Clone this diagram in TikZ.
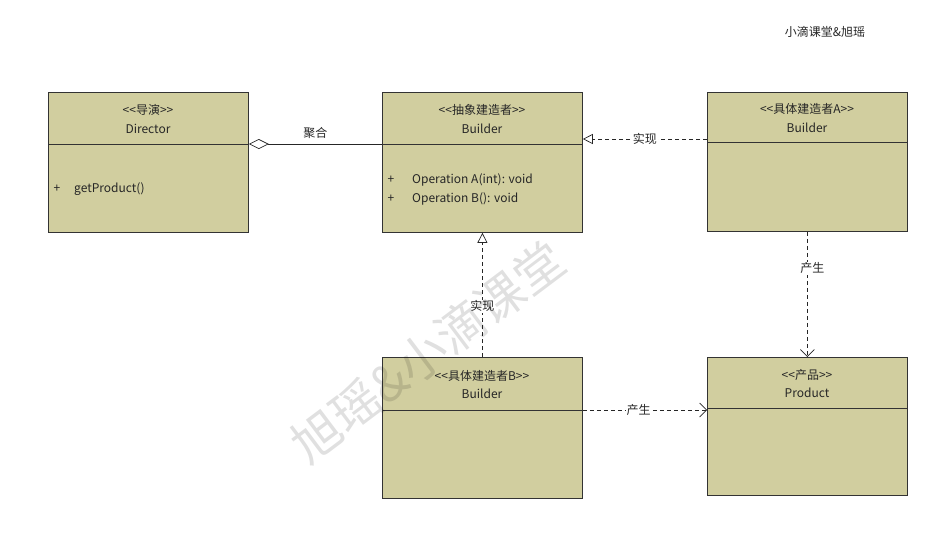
\documentclass[tikz,border=0pt]{standalone}
\usepackage{fontspec}
\newfontfamily\cnfont{Noto Sans CJK SC}
\usetikzlibrary{arrows.meta,calc}
\definecolor{boxfill}{HTML}{D1CE9F}
\begin{document}
\begin{tikzpicture}[x=1pt,y=-1pt,font=\cnfont\fontsize{12}{14}\selectfont,
  cls/.style={draw=black!80,fill=boxfill,line width=0.8pt,minimum width=200pt,inner sep=0pt,anchor=north west},
  txt/.style={inner sep=0pt,text=black!85},
  mtxt/.style={inner sep=0pt,text=black!85,anchor=west},
  divider/.style={draw=black!80,line width=0.8pt},
  solidline/.style={draw=black!85,line width=0.7pt},
  dashline/.style={draw=black!85,line width=0.7pt,dash pattern=on 4pt off 3pt},
  lab/.style={fill=white,inner sep=1pt,text=black!85},
  realize/.style={-{Triangle[open,length=10pt,width=10pt]}},
  produce/.style={-{Straight Barb[length=7pt,width=14pt]}},
  aggr/.style={{Diamond[open,length=20pt,width=10pt]}-}]
\useasboundingbox (0,0) rectangle (949,550);
\fill[white] (0,0) rectangle (949,550);

% classes
\node[cls,minimum height=140pt] (dir) at (48,92) {};
\node[cls,minimum height=140pt] (bld) at (382,92) {};
\node[cls,minimum height=139pt] (ca) at (707,92) {};
\node[cls,minimum height=141pt] (cb) at (382,357) {};
\node[cls,minimum height=138pt] (prod) at (707,357) {};

\draw[divider] ($(dir.north west)+(0,52)$) -- ($(dir.north east)+(0,52)$);
\draw[divider] ($(bld.north west)+(0,52)$) -- ($(bld.north east)+(0,52)$);
\draw[divider] ($(ca.north west)+(0,50)$) -- ($(ca.north east)+(0,50)$);
\draw[divider] ($(cb.north west)+(0,53)$) -- ($(cb.north east)+(0,53)$);
\draw[divider] ($(prod.north west)+(0,51)$) -- ($(prod.north east)+(0,51)$);

% texts
\node[txt] (dirS) at (148,110) {<<导演>>};
\node[txt] (dirN) at (148,129) {Director};
\node[txt] (dirP) at (57,189) {+};
\node[mtxt] (dirM) at (74,189) {getProduct()};

\node[txt] (bldS) at (482,110) {<<抽象建造者>>};
\node[txt] (bldN) at (482,129) {Builder};
\node[txt] (bldP1) at (391,180) {+};
\node[mtxt] (bldM1) at (412,180) {Operation A(int): void};
\node[txt] (bldP2) at (391,199) {+};
\node[mtxt] (bldM2) at (412,199) {Operation B(): void};

\node[txt] (caS) at (807,109) {<<具体建造者A>>};
\node[txt] (caN) at (807,128) {Builder};

\node[txt] (cbS) at (482,376) {<<具体建造者B>>};
\node[txt] (cbN) at (482,394) {Builder};

\node[txt] (prodS) at (807,375) {<<产品>>};
\node[txt] (prodN) at (807,393) {Product};

\node[txt] (title) at (825,32) {小滴课堂\&旭瑶};

% connectors
\draw[solidline,aggr] ($(dir.north east)+(0,52)$) -- node[txt,above=5pt] (aggLab) {聚合} ($(bld.north west)+(0,52)$);
\draw[dashline,realize] ($(ca.north west)+(0,47)$) -- node[lab] (r1) {实现} ($(bld.north east)+(0,47)$);
\draw[dashline,realize] (cb.north) -- node[lab,pos=0.41] (r2) {实现} (bld.south);
\draw[dashline,produce] (ca.south) -- node[lab,pos=0.29,xshift=5pt] (p1) {产生} (prod.north);
\draw[dashline,produce] ($(cb.north east)+(0,53)$) -- node[lab,pos=0.45] (p2) {产生} ($(prod.north west)+(0,53)$);

% watermark
\node[text=black,opacity=0.12,rotate=37,font=\cnfont\fontsize{49}{52}\selectfont] (wm) at (428,352) {旭瑶\&小滴课堂};
\end{tikzpicture}
\end{document}
